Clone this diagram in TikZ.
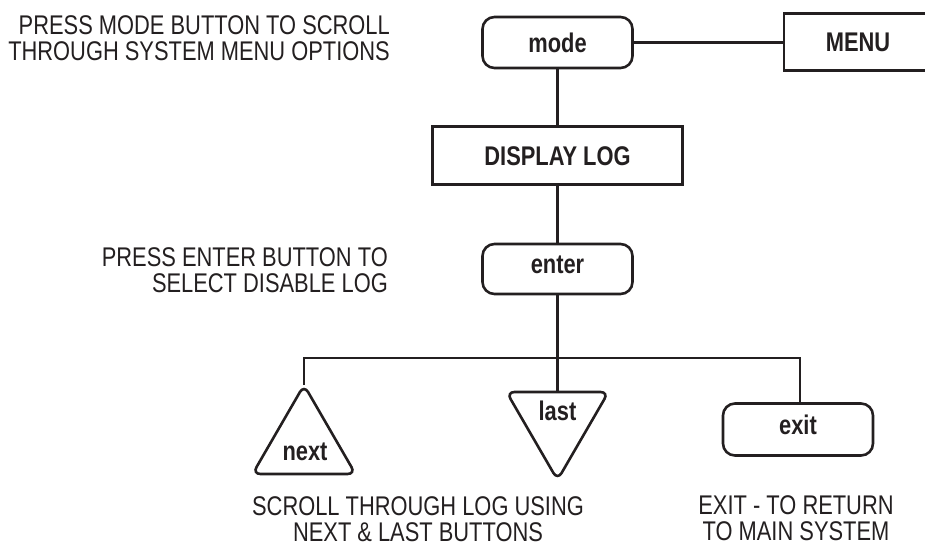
\documentclass[tikz,border=0pt]{standalone}
\usepackage{fontspec}
\setmainfont[FakeStretch=0.81]{Liberation Sans}
\definecolor{ink}{RGB}{35,31,32}
\begin{document}
\begin{tikzpicture}[x=1pt,y=-1pt,color=ink,
  wire/.style={line width=2.6pt, line join=miter},
  box/.style={draw, rectangle, line width=2.6pt, inner sep=0pt,
    font=\fontsize{27}{26}\selectfont\bfseries, text height=19.5pt, text depth=0pt},
  btn/.style={box, rounded corners=12pt, minimum width=150pt, minimum height=50pt},
  plainbox/.style={box},
  tri/.style={draw, line width=2.6pt, rounded corners=8pt},
  tag/.style={font=\fontsize{27}{26}\selectfont\bfseries, inner sep=0pt, anchor=base},
  note/.style={font=\fontsize{27}{26}\selectfont, inner sep=0pt}]
\useasboundingbox (0,0) rectangle (925,550);
\clip (0,0) rectangle (925,550);

% buttons and screens
\node[btn, minimum height=51pt] (mode) at (557.5,42.5) {mode};
\node[plainbox, minimum width=148pt, minimum height=57pt] (menu) at (858,42) {MENU};
\node[plainbox, minimum width=250pt, minimum height=58pt] (display) at (557.5,155.5) {DISPLAY LOG};
\node[btn, text depth=11pt] (enter) at (557.5,269) {enter};
\node[btn, minimum height=52pt, text depth=10pt] (exit) at (798,429.5) {exit};

% triangular scroll buttons
\coordinate (nextTip) at (304,385);
\coordinate (nextL) at (252.5,474);
\coordinate (nextR) at (355.5,474);
\draw[tri] (nextTip) -- (nextR) -- (nextL) -- cycle;
\node[tag] (nextlbl) at (305,460) {next};

\coordinate (lastL) at (506.5,392);
\coordinate (lastTop) at (557.5,392);
\coordinate (lastR) at (608.5,392);
\coordinate (lastTip) at (557.5,480);
\draw[tri] (lastL) -- (lastR) -- (lastTip) -- cycle;
\node[tag] (lastlbl) at (557.5,420) {last};

% connectors
\draw[wire] (mode.east) -- (mode.east -| menu.west);
\draw[wire] (mode.south) -- (display.north);
\draw[wire] (display.south) -- (enter.north);
\coordinate (busR) at (800,358);
\draw[wire] (enter.south) -- (lastTop);
\draw[wire] (nextTip) |- (busR) -- (busR |- exit.north);

% instructions
\node[note, anchor=north east, align=right] (hintmode) at (390,15.3)
  {PRESS MODE BUTTON TO SCROLL\\THROUGH SYSTEM MENU OPTIONS};
\node[note, anchor=north east, align=right] (hintenter) at (388,247.3)
  {PRESS ENTER BUTTON TO\\SELECT DISABLE LOG};
\node[note, anchor=north, align=center] (hintscroll) at (418,496.3)
  {SCROLL THROUGH LOG USING\\NEXT \& LAST BUTTONS};
\node[note, anchor=north, align=center] (hintexit) at (796,495.3)
  {EXIT - TO RETURN\\TO MAIN SYSTEM};
\end{tikzpicture}
\end{document}
